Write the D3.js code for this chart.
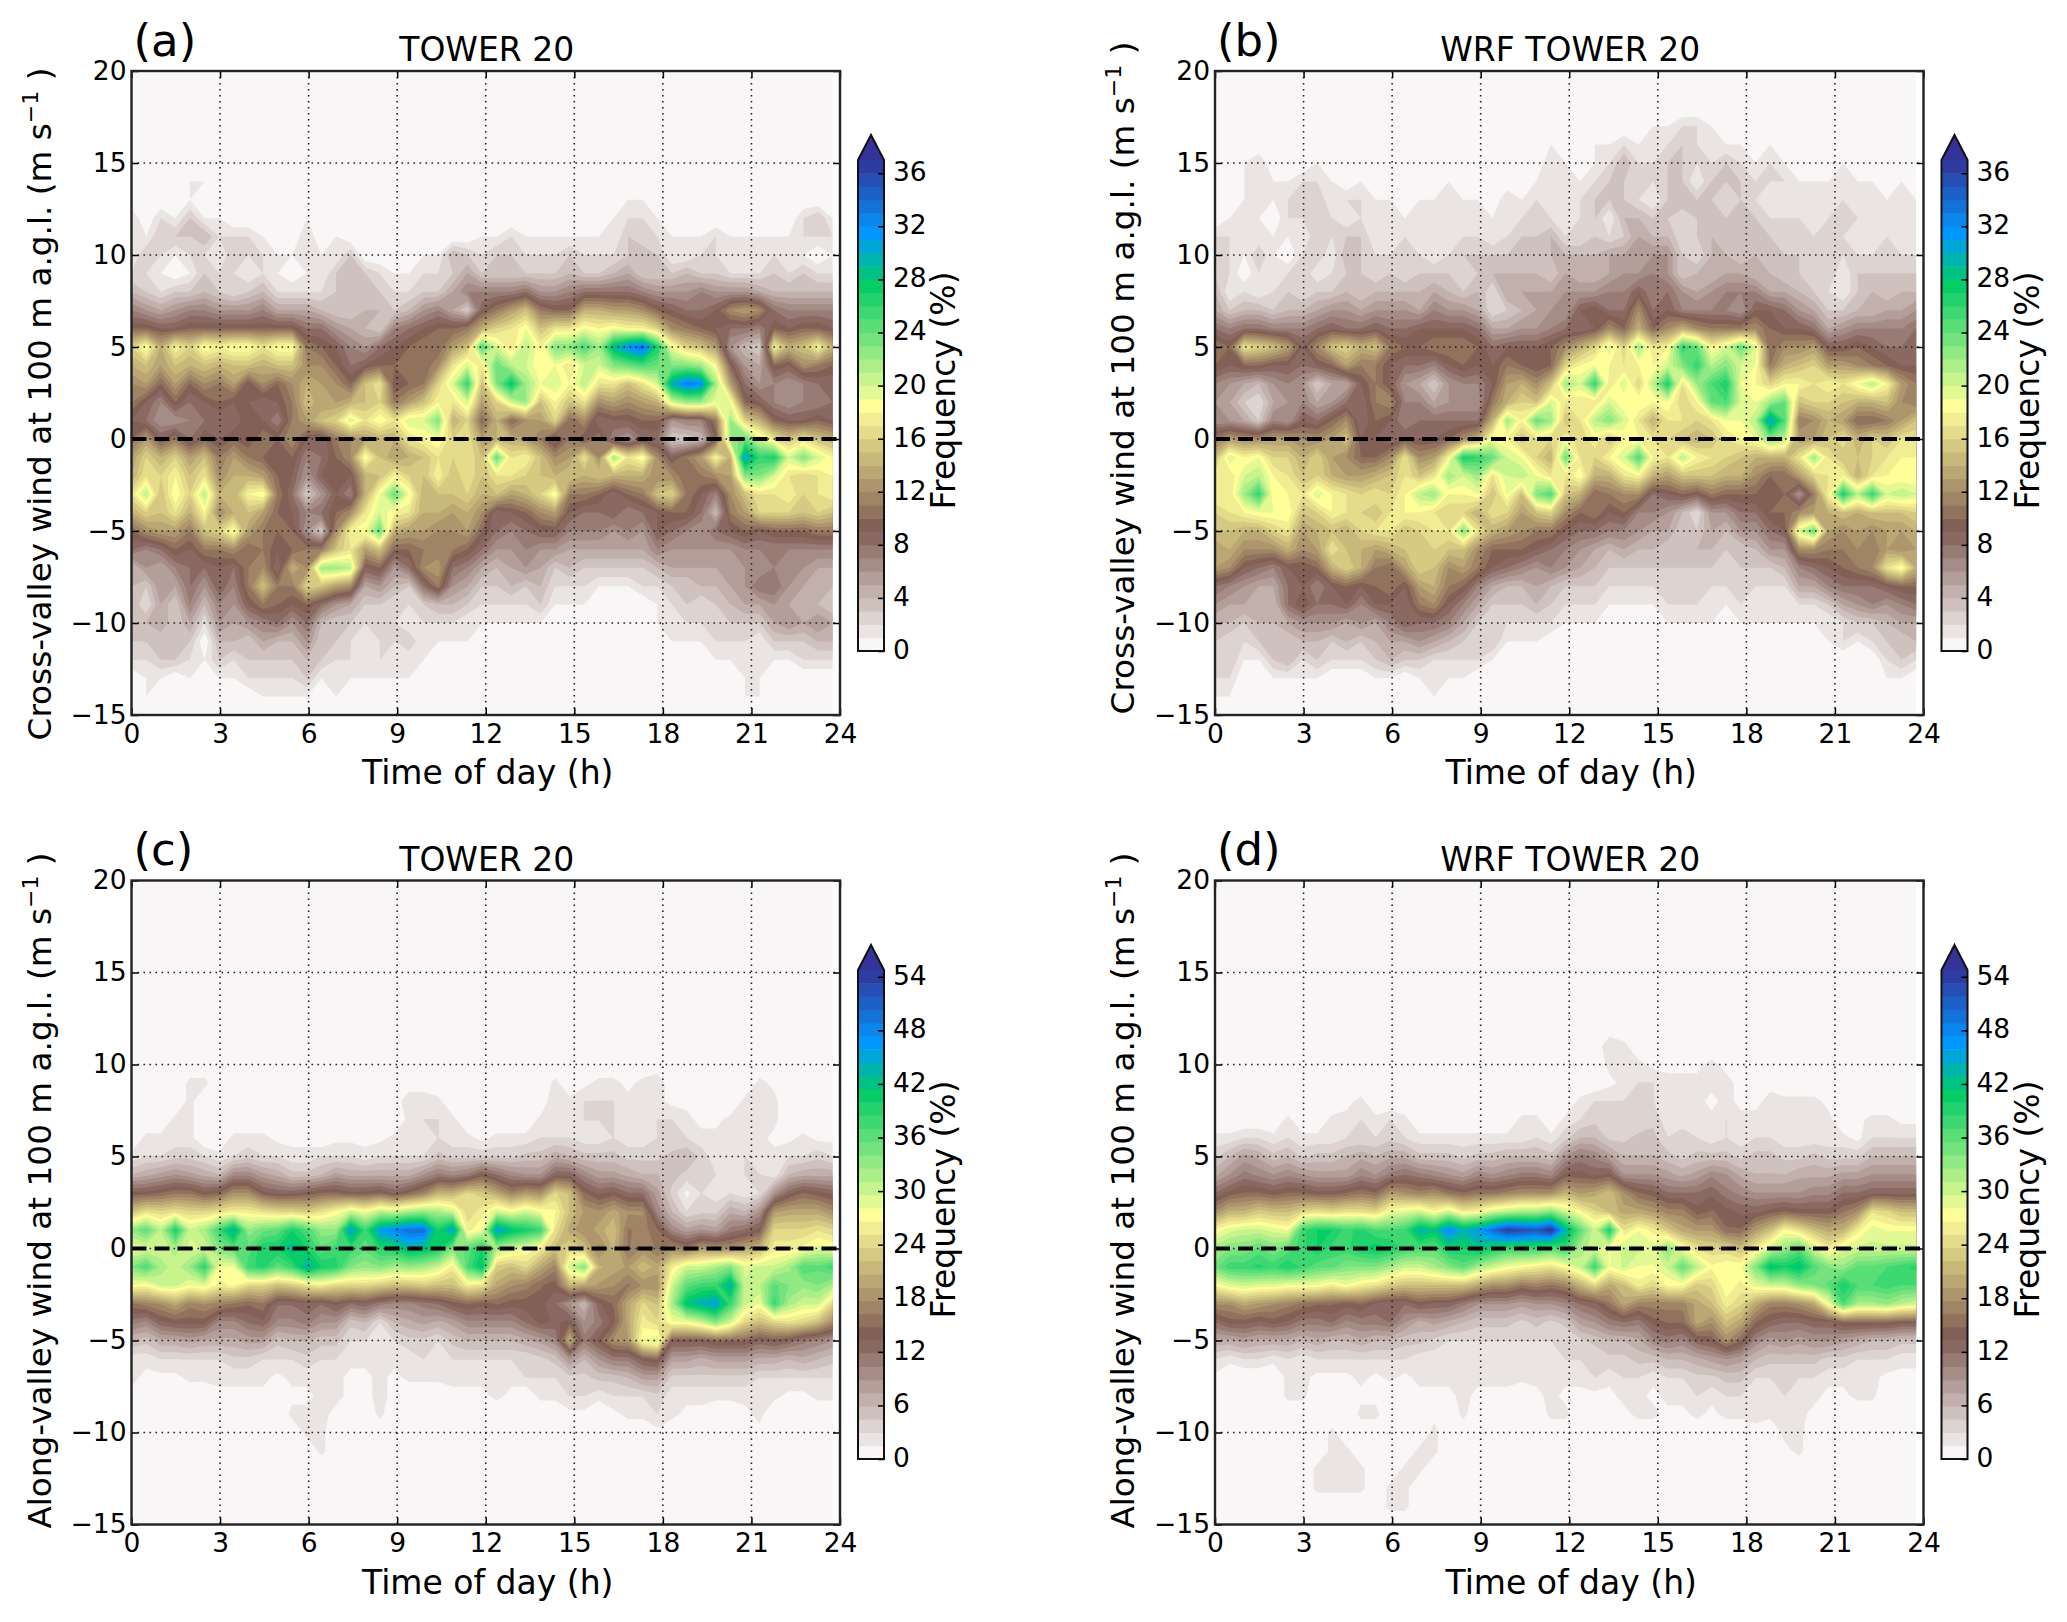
<!DOCTYPE html>
<html>
<head>
<meta charset="utf-8">
<script src="https://d3js.org/d3.v7.min.js"></script>
<style>
  body { margin: 0; background: #fff; }
  text { font-family: "DejaVu Sans", sans-serif; fill: #000; }
</style>
</head>
<body>
<svg id="chart" width="2067" height="1622"></svg>
<script>
// one list per half hour of the day, wind speed going from the top row down
// panel (a) rows 14 .. -14 m/s
var towerCross = [
[0,0,2,2,1,2,4,7,10,16,14,12,11,9,10,13,14,17,14,10,8,4,4,4,3,3,2,0,0],
[0,0,0,1,3,2,3,6,10,19,15,13,9,8,13,16,17,21,16,12,7,6,3,2,4,3,2,1,1],
[0,0,2,3,2,1,2,5,9,14,13,10,7,6,9,14,16,15,15,13,8,5,6,5,5,3,3,1,0],
[0,0,1,3,1,0,3,6,9,18,15,13,10,6,11,16,18,19,17,13,10,7,5,3,3,4,3,0,0],
[1,1,3,3,2,1,3,7,10,16,14,10,8,7,8,13,15,16,14,11,9,8,8,7,5,3,2,1,0],
[1,0,1,4,2,3,4,7,10,19,15,12,9,8,10,15,17,21,18,15,11,8,6,4,2,0,1,0,0],
[0,0,1,2,1,2,3,6,10,18,14,11,10,8,9,11,12,14,12,16,11,9,9,7,6,4,3,1,0],
[0,0,0,2,3,2,2,6,10,19,15,13,9,8,10,13,14,14,14,19,12,8,7,6,5,4,2,1,0],
[0,0,0,2,2,1,3,6,10,19,15,9,9,10,9,11,14,18,15,13,10,11,11,9,6,3,3,2,0],
[0,0,0,1,2,2,4,7,10,17,14,12,8,9,11,10,13,19,13,11,11,12,15,11,7,5,3,2,1],
[0,0,0,0,1,1,2,5,10,19,15,10,9,7,10,9,10,11,10,10,9,8,11,10,8,4,3,2,1],
[0,0,0,0,1,0,2,5,10,19,15,12,11,11,12,10,9,8,9,10,10,14,11,9,6,4,3,2,1],
[0,0,1,2,1,1,2,5,8,11,12,14,15,13,9,7,6,3,7,6,11,12,16,10,8,6,4,3,1],
[0,0,0,0,1,1,2,4,8,10,12,13,13,15,8,8,9,6,8,3,11,22,15,8,4,3,3,1,0],
[1,1,1,1,1,3,3,3,6,9,10,12,13,16,11,10,9,9,10,12,15,22,13,6,3,3,2,1,1],
[0,0,0,0,3,4,3,3,5,7,8,10,14,20,12,12,9,7,12,18,17,21,12,5,3,2,2,1,0],
[0,0,0,0,0,3,3,4,4,6,9,15,15,17,13,19,14,14,17,19,13,9,5,3,2,1,1,1,0],
[0,0,0,0,0,2,3,4,3,8,10,17,16,19,14,15,15,19,20,24,15,10,6,3,2,2,2,1,0],
[0,0,0,0,0,1,2,3,7,9,10,9,11,17,14,13,18,24,18,14,10,6,4,2,2,2,1,1,0],
[0,0,0,0,0,1,2,4,8,10,11,10,13,20,17,14,16,19,17,13,10,8,3,2,1,3,1,1,0],
[0,0,0,0,1,2,3,6,9,11,10,11,15,20,18,15,15,14,14,13,11,12,8,3,2,1,1,0,0],
[0,0,0,0,1,2,3,7,10,10,12,16,18,23,19,17,18,15,14,12,11,13,11,4,2,1,0,0,0],
[0,0,0,0,4,3,5,5,10,13,17,20,17,14,16,16,15,15,13,12,11,8,6,4,2,1,0,0,0],
[0,0,0,0,3,5,7,3,11,15,20,26,20,16,17,17,17,16,14,13,10,7,5,3,1,1,0,0,0],
[0,0,0,1,2,3,7,9,14,25,17,15,13,10,13,15,15,14,12,10,8,5,3,2,1,0,0,0,0],
[0,0,0,1,3,3,7,11,16,20,24,23,16,14,14,24,17,15,8,8,6,4,3,2,1,0,0,0,0],
[1,1,0,2,3,3,7,13,17,17,21,28,20,10,14,17,17,13,9,7,6,5,4,2,1,0,0,0,0],
[0,0,0,1,2,3,8,15,19,21,20,22,22,12,13,18,16,14,10,8,7,6,3,2,1,0,0,0,0],
[0,0,0,1,2,3,6,11,15,18,18,19,15,13,11,15,15,16,12,9,6,5,4,3,1,0,0,0,0],
[0,0,0,1,2,3,6,10,17,23,19,20,18,16,8,12,14,19,13,9,6,3,2,1,0,0,0,0,0],
[0,0,0,1,3,4,7,10,17,23,17,18,15,10,11,13,15,11,9,7,5,4,2,1,0,0,0,0,0],
[0,0,0,1,2,3,8,14,19,25,20,21,17,12,9,17,14,11,8,7,5,3,2,1,0,0,0,0,0],
[0,0,0,1,2,3,8,14,18,22,20,17,12,8,11,12,15,10,8,7,5,3,1,0,0,0,0,0,0],
[0,0,1,1,2,4,8,13,19,29,23,17,13,9,7,22,14,8,9,6,5,3,1,0,0,0,0,0,0],
[0,1,2,3,3,5,8,13,18,32,24,15,12,9,6,17,14,10,7,7,5,3,1,0,0,0,0,0,0],
[0,1,2,2,4,3,7,12,18,34,25,17,13,10,8,19,14,11,8,6,5,3,2,0,0,0,0,0,0],
[0,0,1,2,3,3,6,10,16,27,24,20,14,10,8,12,12,15,9,9,7,4,2,1,1,0,0,0,0],
[0,0,0,1,1,3,6,9,12,19,23,30,20,6,3,9,12,16,10,8,6,5,3,2,1,1,0,0,0],
[0,0,0,1,1,4,6,8,11,16,23,33,22,7,3,11,10,11,10,7,6,5,3,3,2,1,0,0,0],
[0,0,0,1,2,3,7,8,10,15,22,32,22,7,4,13,11,9,8,6,6,5,4,2,2,1,0,0,0],
[0,0,0,2,2,3,6,9,9,13,18,22,19,11,9,18,12,7,4,8,6,5,4,3,2,2,1,0,0],
[0,0,0,1,1,2,6,12,8,6,10,13,19,22,22,14,13,12,11,9,6,5,5,4,3,2,1,0,0],
[0,0,0,1,1,2,6,13,8,4,6,8,10,16,24,31,23,15,13,10,7,6,6,5,3,2,1,1,1],
[0,0,0,1,1,2,5,12,7,3,5,6,9,14,20,26,23,17,16,9,7,6,8,5,3,1,1,1,1],
[0,0,0,1,2,3,4,8,10,18,10,7,7,10,17,27,20,17,16,10,7,7,8,6,5,3,1,0,0],
[0,0,0,1,1,2,4,7,9,14,9,6,6,9,15,20,17,18,16,10,7,6,6,5,6,3,1,0,0],
[0,0,2,2,1,3,4,7,10,15,12,7,7,9,17,23,16,16,15,10,7,6,5,4,5,3,2,0,0],
[0,0,3,2,0,2,4,7,10,18,11,8,7,10,15,20,17,17,16,11,7,5,4,4,6,4,2,0,0],
[0,0,1,2,1,2,4,7,9,14,10,8,8,9,14,18,18,18,15,11,7,5,4,3,5,4,2,0,0]
];
// panel (b) rows 17 .. -14 m/s
var wrfCross = [
[0,0,0,0,0,0,2,3,3,4,5,8,11,10,7,6,6,11,15,18,18,16,15,13,13,8,6,4,3,2,2,1],
[0,0,0,0,0,1,2,2,2,1,3,7,10,9,6,5,6,13,20,17,17,17,15,14,12,7,5,4,2,3,2,1],
[0,0,1,1,1,1,1,1,0,2,4,8,17,10,5,3,5,12,18,20,22,18,14,12,9,6,5,3,2,1,0,0],
[0,0,2,1,2,1,1,3,2,1,4,8,16,10,4,2,3,12,19,21,26,19,14,12,8,5,4,4,3,1,0,0],
[0,0,0,1,1,0,1,1,1,2,3,7,15,9,6,5,7,13,16,18,18,19,16,12,7,5,4,4,3,3,1,0],
[0,0,0,1,2,2,1,0,2,3,4,7,13,9,7,6,6,13,16,17,18,19,17,14,9,8,8,5,3,4,1,0],
[0,0,0,2,3,2,1,2,3,2,4,7,9,8,6,7,9,12,14,15,17,15,13,12,9,9,10,6,4,2,1,0],
[0,0,1,2,3,2,3,3,1,3,5,8,12,9,3,5,8,12,16,16,20,16,14,13,10,7,8,6,4,3,1,0],
[0,0,0,1,1,2,2,1,2,3,6,9,15,10,5,6,10,13,13,14,18,18,15,17,14,9,8,6,3,2,0,0],
[0,0,0,0,2,1,3,4,3,4,6,8,16,13,5,8,12,15,12,13,17,17,14,15,16,10,9,5,4,2,0,0],
[0,0,0,1,2,2,3,3,3,3,5,8,14,11,9,8,8,9,10,13,16,16,16,14,14,9,7,6,3,2,0,0],
[0,0,0,0,1,1,1,2,2,4,6,9,15,11,11,11,10,9,10,14,17,15,17,13,11,10,9,5,4,3,1,0],
[0,0,0,0,1,1,1,2,3,4,6,8,11,9,9,12,9,8,12,15,16,17,17,14,10,11,9,7,5,4,1,0],
[0,0,0,0,0,1,2,2,2,4,6,8,10,8,6,7,7,9,17,17,18,18,15,15,13,9,8,9,5,3,0,0],
[0,0,0,0,1,1,1,2,3,4,5,9,10,8,5,7,8,9,12,15,21,18,16,15,16,13,11,8,6,3,1,0],
[0,0,0,0,1,2,1,1,3,5,7,9,11,7,3,5,8,9,13,17,22,17,17,16,15,14,12,8,5,2,1,1],
[0,0,0,1,1,1,1,2,3,4,6,9,11,9,6,6,8,10,18,22,18,16,17,15,12,11,9,7,4,2,1,0],
[0,0,0,0,1,1,2,3,2,3,6,9,11,10,7,6,8,12,27,20,18,16,23,15,13,10,7,5,3,2,1,0],
[0,0,0,0,1,1,2,3,3,4,5,8,10,9,7,6,8,14,26,22,19,14,17,12,11,7,5,3,2,2,0,0],
[0,0,0,0,0,1,1,3,4,2,2,5,8,9,9,11,14,19,24,17,15,17,14,10,9,5,3,2,3,1,0,0],
[0,0,0,0,2,1,2,3,4,5,3,5,9,11,13,14,22,18,20,20,19,16,13,10,8,4,3,2,1,0,0,0],
[0,0,0,0,1,2,3,3,4,5,4,6,9,10,14,16,18,15,19,21,15,13,12,10,7,4,3,2,1,0,0,0],
[0,0,0,1,2,2,3,3,4,5,5,6,9,9,12,15,24,17,16,19,23,15,11,9,6,5,4,2,1,0,0,0],
[0,1,2,1,1,2,4,4,3,5,6,7,10,10,15,20,22,16,14,17,25,16,11,8,7,4,3,2,0,0,0,0],
[0,0,1,2,1,1,2,4,5,6,6,8,12,16,22,17,15,18,24,17,15,12,9,7,6,3,2,1,0,0,0,0],
[0,0,0,1,2,2,2,4,4,6,9,8,14,18,20,17,17,16,17,19,14,10,8,6,5,3,2,1,0,0,0,0],
[0,1,1,2,3,3,3,4,4,6,10,9,16,19,26,17,21,18,16,14,10,11,8,5,4,3,2,1,0,0,0,0],
[0,1,2,3,3,1,2,5,5,7,8,12,20,18,17,20,23,15,18,14,11,9,7,4,3,2,1,0,0,0,0,0],
[0,2,4,3,3,4,3,5,6,7,8,10,16,17,20,18,20,18,20,17,12,10,7,5,3,2,1,0,0,0,0,0],
[0,1,2,2,2,4,5,5,6,9,12,14,22,18,16,19,17,18,25,18,12,7,6,4,3,2,1,0,0,0,0,0],
[1,1,2,2,1,3,4,6,7,7,8,10,17,18,21,18,14,17,18,14,8,7,5,4,3,2,1,0,0,0,0,0],
[1,2,3,3,3,3,4,6,6,8,9,12,18,20,27,19,17,16,17,13,9,6,5,3,3,2,2,1,0,0,0,0],
[2,3,3,3,4,2,2,3,3,6,7,14,26,23,17,16,17,15,21,15,10,4,3,3,3,2,2,1,0,0,0,0],
[2,2,2,1,3,3,3,2,4,5,7,12,24,26,22,18,16,14,18,15,9,2,3,4,3,2,2,1,0,0,0,0],
[1,1,2,3,3,3,4,4,4,6,7,11,18,21,25,24,17,15,17,15,11,6,5,4,3,2,1,1,0,0,0,0],
[0,1,3,3,2,3,3,4,5,7,7,11,20,23,27,25,19,17,16,14,10,6,4,3,2,2,1,0,0,0,0,0],
[0,1,2,3,3,3,3,3,5,7,6,11,24,20,19,20,19,18,15,14,10,8,6,3,3,2,2,1,0,0,0,0],
[0,0,1,2,2,3,4,4,4,7,9,12,20,19,18,19,21,19,14,12,10,8,6,4,3,2,1,1,0,0,0,0],
[0,1,2,2,1,2,3,3,4,5,9,10,10,11,16,22,31,23,14,10,9,10,8,6,3,2,1,1,0,0,0,0],
[0,0,1,2,1,2,2,3,3,5,8,9,12,14,18,24,25,21,14,10,10,10,9,6,4,2,1,1,0,0,0,0],
[0,0,0,1,1,2,2,3,3,4,6,9,12,15,18,15,11,13,17,13,6,12,20,12,7,5,2,1,0,0,0,0],
[0,0,0,1,1,1,2,2,2,3,5,8,13,16,17,16,12,13,22,16,11,13,24,12,8,5,2,1,0,0,0,0],
[0,0,0,1,1,2,3,3,3,2,3,5,9,13,18,16,14,15,17,17,18,14,13,11,9,7,3,1,1,0,0,0],
[0,0,1,1,2,2,2,2,1,1,3,6,9,13,17,15,13,17,15,18,27,15,12,11,10,8,5,2,2,0,0,0],
[0,0,0,1,1,2,1,2,3,3,4,7,10,12,19,14,10,14,15,14,21,14,13,12,11,8,6,3,1,0,0,0],
[0,0,0,1,2,1,1,2,3,4,4,7,9,11,21,14,10,16,16,17,26,15,12,11,12,8,7,3,2,0,0,0],
[0,0,0,0,1,1,2,2,3,3,5,7,8,10,18,15,11,15,17,18,20,15,13,13,17,9,6,4,3,2,1,0],
[0,0,0,1,2,1,1,2,3,4,5,7,8,9,13,12,13,17,18,18,21,15,13,12,19,10,7,5,3,3,1,0],
[0,0,0,0,1,1,1,2,3,4,6,8,8,9,11,11,15,17,18,18,20,16,14,13,14,10,8,5,4,2,0,0]
];
// panel (c) rows 9 .. -11 m/s
var towerAlong = [
[0,0,0,0,2,6,14,22,33,28,34,28,16,11,6,2,2,1,0,0,0],
[0,0,0,2,3,7,14,25,36,29,37,27,17,10,5,2,1,0,0,0,0],
[0,0,0,2,3,8,15,24,31,30,32,30,18,13,7,3,1,0,0,0,0],
[0,0,2,2,4,9,16,25,40,32,30,30,20,14,7,3,1,0,0,0,0],
[2,2,2,2,4,8,16,24,30,29,33,28,17,14,8,3,2,0,0,0,0],
[2,0,0,0,3,7,14,24,32,30,39,29,18,14,7,3,2,0,0,0,0],
[0,0,0,0,2,6,15,25,38,34,28,26,17,10,7,3,2,1,0,0,0],
[0,0,0,2,3,10,18,26,44,36,28,27,16,10,7,4,2,1,0,0,0],
[0,0,0,2,4,10,18,26,33,36,38,24,15,12,8,4,2,1,0,0,0],
[0,0,0,2,3,8,14,25,35,40,39,24,16,13,8,3,2,1,0,0,0],
[0,0,0,1,3,7,13,24,36,40,36,22,12,10,5,3,1,0,0,0,0],
[0,0,0,1,2,5,13,24,40,43,38,23,12,10,6,3,2,1,2,0,0],
[0,0,0,1,2,5,14,23,37,40,44,25,13,11,6,4,2,1,2,2,0],
[0,0,0,0,3,6,15,25,33,36,40,26,12,9,5,3,2,2,2,2,2],
[0,0,0,1,3,8,15,27,33,38,39,24,14,9,5,3,2,2,1,0,0],
[0,0,0,1,3,7,14,30,46,38,34,24,12,5,3,2,1,1,1,0,0],
[0,0,0,1,2,7,14,28,38,36,33,24,13,6,3,2,1,1,0,0,0],
[0,0,0,1,3,7,15,31,46,39,34,23,11,3,2,2,2,2,2,0,0],
[1,1,0,2,3,7,13,30,48,40,32,22,10,6,3,2,1,1,0,0,0],
[1,2,2,2,3,7,15,32,50,43,33,22,10,7,4,2,2,0,0,0,0],
[1,2,3,2,3,9,17,33,50,42,32,23,11,8,4,3,2,0,0,0,0],
[0,2,3,3,5,11,21,32,40,40,30,22,12,7,3,2,2,0,0,0,0],
[0,0,2,2,4,10,21,30,46,34,26,22,14,8,5,3,2,1,0,0,0],
[0,0,0,2,4,11,24,24,26,36,37,26,15,10,6,3,2,1,1,0,0],
[0,0,0,1,4,14,23,26,28,40,42,25,14,10,6,3,2,1,1,0,0],
[0,0,0,2,4,12,20,30,46,32,23,20,15,10,6,3,2,2,0,0,0],
[0,0,0,2,4,10,17,28,42,30,22,18,14,10,6,3,2,1,0,0,0],
[0,0,0,2,5,9,19,30,40,28,24,17,14,12,7,3,3,0,0,0,0],
[0,0,2,3,5,9,18,28,38,26,20,15,14,14,8,4,3,2,0,0,0],
[2,3,2,3,7,13,24,27,25,22,17,14,12,13,10,5,3,2,0,0,0],
[0,2,2,3,6,13,22,22,20,24,30,21,9,14,21,9,4,3,1,0,0],
[1,3,3,2,5,10,15,19,18,22,34,20,6,9,11,6,4,3,1,0,0],
[2,3,3,2,5,8,13,18,20,17,21,19,13,11,14,9,5,2,0,0,0],
[2,3,3,3,5,8,14,20,22,21,20,18,15,14,18,11,5,3,1,0,0],
[1,2,2,2,4,7,12,18,16,16,19,16,20,20,19,11,6,3,2,0,0],
[2,2,2,2,4,6,12,18,17,18,22,18,24,26,28,14,8,3,2,0,0],
[3,2,3,3,4,6,8,10,15,16,20,18,22,24,30,15,8,4,3,1,0],
[0,1,3,3,5,5,4,6,10,18,26,30,32,28,14,8,4,2,2,0,0],
[0,1,2,3,6,4,1,3,8,16,30,36,42,28,14,8,4,2,1,0,0],
[0,0,1,2,4,4,3,4,9,19,30,38,44,30,14,7,4,2,1,0,0],
[0,0,1,2,2,3,2,4,8,18,32,38,46,34,15,8,4,2,0,0,0],
[0,0,2,2,2,2,3,7,11,18,34,44,38,30,15,8,4,2,0,0,0],
[0,2,2,2,3,3,2,6,12,20,29,30,30,24,15,8,4,2,1,1,1],
[2,3,2,2,2,3,3,9,14,21,30,31,28,22,13,7,3,2,2,1,1],
[1,2,2,1,2,2,9,19,24,26,30,36,38,24,14,7,3,2,0,0,0],
[0,0,0,1,3,6,13,20,24,26,32,34,32,25,13,6,3,1,0,0,0],
[0,0,0,2,3,7,15,20,24,27,37,33,30,24,11,7,3,1,0,0,0],
[0,0,0,1,4,7,14,20,25,29,36,34,30,22,10,6,3,2,0,0,0],
[0,0,0,1,3,7,13,18,24,28,38,32,24,18,9,5,3,2,0,0,0]
];
// panel (d) rows 11 .. -14 m/s
var wrfAlong = [
[0,0,0,0,0,2,4,7,12,18,27,32,35,27,18,12,7,3,1,0,0,0,0,0,0,0],
[0,0,0,0,0,2,6,9,14,21,29,34,38,29,18,14,7,2,0,0,0,0,0,0,0,0],
[0,0,0,0,0,3,8,11,15,21,30,34,38,30,20,14,8,3,0,0,0,0,0,0,0,0],
[0,0,0,0,0,3,7,10,15,23,30,36,39,29,19,13,7,3,0,0,0,0,0,0,0,0],
[0,0,0,0,0,2,5,9,14,22,29,34,38,29,18,14,7,2,0,0,0,0,0,0,0,0],
[0,0,0,0,2,3,6,10,15,22,28,36,40,28,17,13,7,3,2,2,0,0,0,0,0,0],
[0,0,0,0,0,2,4,9,15,24,38,38,38,28,16,11,6,2,2,2,0,0,0,0,0,0],
[0,0,0,0,0,2,5,8,14,25,40,40,36,28,15,11,7,3,1,0,0,0,0,2,2,0],
[0,0,0,0,2,2,5,8,14,24,40,38,36,26,15,12,6,3,1,0,0,2,2,2,2,0],
[0,0,0,1,2,3,6,8,15,25,38,38,34,28,14,10,6,3,1,0,0,0,2,2,2,0],
[0,0,0,2,3,3,7,10,16,25,39,40,34,26,15,11,7,3,2,1,2,0,0,2,2,0],
[0,0,0,0,2,3,6,9,15,24,37,41,34,25,13,11,6,3,1,1,2,0,0,0,0,0],
[0,0,0,0,3,4,7,11,19,28,37,40,32,23,12,12,6,3,2,0,0,0,0,0,2,2],
[0,0,0,0,2,3,7,12,18,29,38,38,30,22,12,9,5,3,1,0,0,0,0,2,2,2],
[0,0,0,0,0,2,5,11,17,30,44,37,30,22,14,7,5,2,2,1,0,0,2,2,0,0],
[0,0,0,0,0,2,5,10,18,27,42,36,32,22,13,8,4,2,2,1,1,2,2,0,0,0],
[0,0,0,0,0,2,5,9,16,30,48,40,34,22,13,7,3,2,2,1,0,0,0,0,0,0],
[0,0,0,0,0,2,4,8,15,26,44,40,36,22,11,6,3,2,2,2,2,0,0,0,0,0],
[0,0,0,0,0,2,5,10,16,27,46,42,32,20,9,5,3,2,2,1,0,0,0,0,0,0],
[0,0,0,0,0,2,5,9,16,30,50,40,30,18,9,5,3,2,2,1,1,0,0,0,0,0],
[0,0,0,0,0,2,6,10,17,31,54,38,28,18,9,5,3,2,2,1,0,0,0,0,0,0],
[0,0,0,0,2,2,6,11,18,32,53,38,27,16,8,4,3,2,2,0,0,0,0,0,0,0],
[0,0,0,0,2,3,6,11,18,32,52,38,26,17,9,5,3,2,2,1,0,0,0,0,0,0],
[0,0,0,0,0,2,5,10,18,34,55,36,25,16,9,4,3,2,2,2,2,0,0,0,0,0],
[0,0,0,0,2,4,9,14,21,30,44,38,27,17,10,5,3,3,2,1,2,0,0,0,0,0],
[1,0,0,2,3,6,11,14,19,27,36,32,30,21,12,8,4,3,2,1,0,0,0,0,0,0],
[0,0,0,3,4,6,10,13,20,24,30,30,38,24,13,9,5,3,3,1,0,0,0,0,0,0],
[3,2,1,3,3,4,8,14,22,22,40,28,28,20,16,11,6,4,2,1,0,0,0,0,0,0],
[2,2,2,3,3,4,6,9,18,20,25,30,30,22,20,12,6,4,3,2,1,0,0,0,0,0],
[0,2,3,4,3,5,6,9,15,20,28,30,28,26,17,11,7,5,3,2,2,0,0,0,0,0],
[0,1,3,3,4,5,6,9,14,19,26,29,28,24,17,14,10,5,2,1,2,0,0,0,0,0],
[0,1,2,2,2,3,5,8,12,17,23,34,30,27,17,15,11,6,3,2,1,0,0,0,0,0],
[0,1,2,2,2,4,4,7,12,17,20,28,36,27,17,15,10,6,3,2,1,0,0,0,0,0],
[0,1,2,2,2,3,5,8,12,14,19,25,31,23,20,20,13,7,4,3,2,0,0,0,0,0],
[0,2,2,1,2,2,5,10,13,15,19,24,27,24,22,18,14,8,4,2,1,0,0,0,0,0],
[0,1,2,2,3,3,5,9,11,14,15,24,28,28,26,22,18,9,5,3,2,0,0,0,0,0],
[0,1,1,1,2,2,4,7,10,13,15,22,28,26,24,20,15,8,5,3,2,0,0,0,0,0],
[0,0,1,1,2,3,5,6,9,13,19,26,34,29,20,15,10,6,3,2,3,0,0,0,0,0],
[0,0,1,2,2,3,5,6,9,14,22,30,42,30,17,13,8,5,3,2,2,0,0,0,0,0],
[0,0,0,2,2,2,4,6,9,15,27,33,40,30,17,12,9,5,3,3,2,2,1,0,0,0],
[0,0,0,2,2,2,4,7,9,14,25,36,42,33,18,12,8,5,3,2,2,2,2,0,0,0],
[0,0,0,2,2,2,5,7,10,14,22,30,37,34,20,13,9,5,3,2,1,0,0,0,0,0],
[0,0,0,1,2,2,4,7,10,14,20,26,34,36,28,13,9,4,2,1,0,0,0,0,0,0],
[0,0,0,0,0,2,4,8,12,16,21,29,33,40,37,15,8,4,2,1,0,0,0,0,0,0],
[0,0,0,0,1,1,4,8,12,18,26,30,36,37,32,15,7,3,2,2,0,0,0,0,0,0],
[0,0,0,0,2,3,6,9,13,25,29,30,36,37,32,15,6,3,2,2,0,0,0,0,0,0],
[0,0,0,0,2,3,6,9,13,24,28,30,37,38,33,15,6,3,1,0,0,0,0,0,0,0],
[0,0,0,0,1,3,6,9,13,22,28,30,38,37,31,14,5,2,1,0,0,0,0,0,0,0],
[0,0,0,0,1,3,6,9,13,22,28,30,39,37,30,14,5,2,1,0,0,0,0,0,0,0]
];

var hourTicks = [0,3,6,9,12,15,18,21,24];
var windTicks = [-15,-10,-5,0,5,10,15,20];
var crossTicks = [0,4,8,12,16,20,24,28,32,36];
var alongTicks = [0,6,12,18,24,30,36,42,48,54];

// matplotlib terrain colormap, reversed
var terrainStops = [0, 0.25, 0.5, 0.75, 0.85, 1];
var terrainColors = ['#ffffff', '#805c54', '#ffff99', '#00cc66', '#0099ff', '#333399'];
var terrain = d3.scaleLinear().domain(terrainStops).range(terrainColors);

var axW = 708.5, axH = 644;
var lastHour = 23.75;   // the records stop a little before midnight

var panels = [
    {tag:'(a)', title:'TOWER 20',     ylab:'Cross-valley wind', labelDy:11,  data:towerCross, top:14, step:1,    ticks:crossTicks, x:131.5, y:71,    bar:[160,651]},
    {tag:'(b)', title:'WRF TOWER 20', ylab:'Cross-valley wind', labelDy:-15, data:wrfCross,   top:17, step:1,    ticks:crossTicks, x:1215,  y:71,    bar:[160,651]},
    {tag:'(c)', title:'TOWER 20',     ylab:'Along-valley wind', labelDy:-12, data:towerAlong, top:9,  step:1.48, ticks:alongTicks, x:131.5, y:880.5, bar:[970,1459]},
    {tag:'(d)', title:'WRF TOWER 20', ylab:'Along-valley wind', labelDy:-12, data:wrfAlong,   top:11, step:1.48, ticks:alongTicks, x:1215,  y:880.5, bar:[970,1459]}
];

var svg = d3.select('#chart');
var defs = svg.append('defs');

panels.forEach(function(p, i){
    var g = svg.append('g').attr('transform', 'translate(' + p.x + ',' + p.y + ')');

    var scaleX = d3.scaleLinear().domain([0,24]).range([0,axW]);
    var scaleY = d3.scaleLinear().domain([-15,20]).range([axH,0]);

    defs.append('clipPath').attr('id','clip'+i).append('rect').attr('width',axW).attr('height',axH);

    // put the half hourly lists on the full -15..20 grid, top row first
    var nx = p.data.length, ny = 36;
    var grid = new Array(nx*ny).fill(0);
    p.data.forEach(function(col, ix){
        col.forEach(function(v, k){
            var row = 20 - p.top + k;
            grid[ix + row*nx] = v;
        });
    });

    var levels = d3.range(0, 38).map(function(k){ return k*p.step; });
    var nBands = levels.length - 1;
    var bandColor = function(k){ return k >= nBands ? terrain(1) : terrain((k+0.5)/nBands); };

    var toPixels = d3.geoTransform({point:function(cx, cy){
        var hour = Math.min(lastHour, (cx-0.5)*lastHour/(nx-1));
        this.stream.point(scaleX(hour), scaleY(20-(cy-0.5)));
    }});
    var path = d3.geoPath(toPixels);
    var bands = d3.contours().size([nx,ny]).thresholds(levels)(grid);

    g.append('g').attr('clip-path','url(#clip'+i+')')
        .selectAll('path').data(bands).enter().append('path')
        .attr('d', path)
        .attr('fill', function(d,k){ return bandColor(k); });

    // dotted grid
    g.append('g').selectAll('line').data(hourTicks.slice(1,-1)).enter().append('line')
        .attr('x1',function(d){ return scaleX(d); }).attr('x2',function(d){ return scaleX(d); })
        .attr('y1',0).attr('y2',axH)
        .attr('stroke','#222').attr('stroke-width',1.6).attr('stroke-dasharray','1.6,4.4');
    g.append('g').selectAll('line').data(windTicks.slice(1,-1)).enter().append('line')
        .attr('y1',function(d){ return scaleY(d); }).attr('y2',function(d){ return scaleY(d); })
        .attr('x1',0).attr('x2',axW)
        .attr('stroke','#222').attr('stroke-width',1.6).attr('stroke-dasharray','1.6,4.4');

    // zero line
    g.append('line').attr('x1',0).attr('x2',axW).attr('y1',scaleY(0)).attr('y2',scaleY(0))
        .attr('stroke','#000').attr('stroke-width',4).attr('stroke-dasharray','15,8');

    // axes, ticks point inwards on all four sides
    var xAxis = g.append('g').attr('transform','translate(0,'+axH+')')
        .call(d3.axisBottom(scaleX).tickValues(hourTicks).tickSizeInner(-7).tickSizeOuter(0).tickPadding(9));
    var yAxis = g.append('g')
        .call(d3.axisLeft(scaleY).tickValues(windTicks).tickSizeInner(-7).tickSizeOuter(0).tickPadding(5));
    var xTop = g.append('g')
        .call(d3.axisTop(scaleX).tickValues(hourTicks).tickSizeInner(-7).tickSizeOuter(0).tickFormat(''));
    var yRight = g.append('g').attr('transform','translate('+axW+',0)')
        .call(d3.axisRight(scaleY).tickValues(windTicks).tickSizeInner(-7).tickSizeOuter(0).tickFormat(''));
    [xAxis,yAxis,xTop,yRight].forEach(function(a){
        a.select('.domain').remove();
        a.selectAll('line').attr('stroke','#000').attr('stroke-width',1.5);
        a.selectAll('text').attr('font-size',26.5).attr('font-family','"DejaVu Sans"');
    });
    g.append('rect').attr('width',axW).attr('height',axH)
        .attr('fill','none').attr('stroke','#222').attr('stroke-width',2.4);

    // labels
    g.append('text').text('Time of day (h)')
        .attr('x',axW/2+2).attr('y',axH+69)
        .attr('font-size',33).style('text-anchor','middle');
    var yl = g.append('text')
        .attr('transform','translate(-81,'+(axH/2+p.labelDy)+')rotate(270)')
        .attr('font-size',32.7).style('text-anchor','middle');
    yl.append('tspan').text(p.ylab + ' at 100 m a.g.l. (m s');
    yl.append('tspan').text('\u22121').attr('font-size',22).attr('dy',-13);
    yl.append('tspan').text(' )').attr('dy',13);

    g.append('text').text(p.title)
        .attr('x',axW/2+1).attr('y',-10)
        .attr('font-size',33).style('text-anchor','middle');
    g.append('text').text(p.tag)
        .attr('x',2).attr('y',-15.5)
        .attr('font-size',45);

    // colour bar
    var barX = p.x + axW + 18, barW = 26;
    var cb = svg.append('g').attr('transform','translate('+barX+',0)');
    var scaleBar = d3.scaleLinear().domain([0, nBands*p.step]).range([p.bar[1], p.bar[0]]);
    cb.selectAll('rect').data(d3.range(nBands)).enter().append('rect')
        .attr('x',0).attr('width',barW)
        .attr('y',function(k){ return scaleBar(levels[k+1]); })
        .attr('height',function(k){ return scaleBar(levels[k]) - scaleBar(levels[k+1]) + 0.5; })
        .attr('fill',function(k){ return bandColor(k); });
    var tip = [[0,p.bar[0]],[barW/2,p.bar[0]-25],[barW,p.bar[0]]];
    cb.append('path').attr('d',d3.line()(tip)+'Z').attr('fill',terrain(1));
    cb.append('path')
        .attr('d',d3.line()([[0,p.bar[1]],[0,p.bar[0]],[barW/2,p.bar[0]-25],[barW,p.bar[0]],[barW,p.bar[1]]])+'Z')
        .attr('fill','none').attr('stroke','#111').attr('stroke-width',2);
    var barAxis = cb.append('g').attr('transform','translate('+barW+',0)')
        .call(d3.axisRight(scaleBar).tickValues(p.ticks).tickSizeInner(-6).tickSizeOuter(0).tickPadding(9));
    barAxis.select('.domain').remove();
    barAxis.selectAll('line').attr('stroke','#000').attr('stroke-width',1.5);
    barAxis.selectAll('text').attr('font-size',26.5).attr('font-family','"DejaVu Sans"').attr('dy','0.28em');
    cb.append('text').text('Frequency (%)')
        .attr('transform','translate(97,'+((p.bar[0]+p.bar[1])/2-15)+')rotate(270)')
        .attr('font-size',33).style('text-anchor','middle');
});
</script>
</body>
</html>
